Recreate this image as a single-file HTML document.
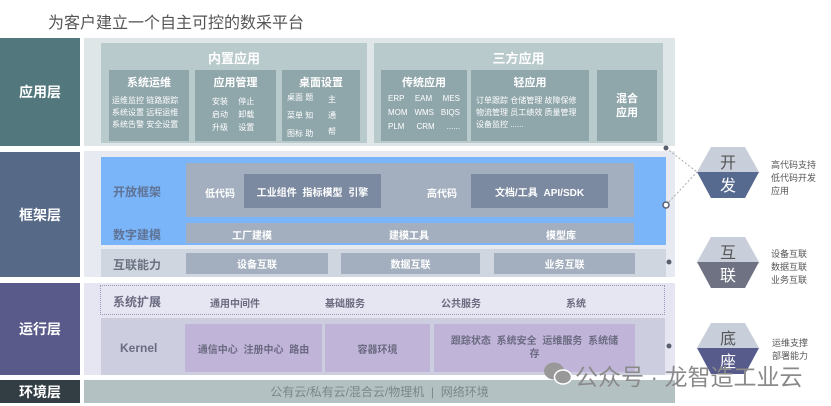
<!DOCTYPE html>
<html><head><meta charset="utf-8"><style>
*{margin:0;padding:0;box-sizing:border-box}
body{width:831px;height:406px;background:#fff;position:relative;overflow:hidden;font-family:"Liberation Sans","Noto Sans CJK SC",sans-serif}
.a{position:absolute}
.c{display:flex;align-items:center;justify-content:center;text-align:center}
.lab{color:#fff;font-weight:bold;font-size:14px}
.w{color:#fff}
.b{font-weight:bold}
</style></head><body>
<div class="a" style="left:48px;top:9px;font-size:16px;color:#555">为客户建立一个自主可控的数采平台</div>

<div class="a c lab" style="left:0;top:38px;width:80px;height:108px;background:#52777c">应用层</div>
<div class="a c lab" style="left:0;top:152px;width:80px;height:125px;background:#566a88">框架层</div>
<div class="a c lab" style="left:0;top:283px;width:80px;height:92px;background:#5a5a8a">运行层</div>
<div class="a c lab" style="left:0;top:380px;width:80px;height:23px;background:#333d44">环境层</div>

<div class="a" style="left:84px;top:38px;width:591px;height:108px;background:#dfe6e7"></div>
<div class="a" style="left:101px;top:43px;width:266px;height:100px;background:#b9cacd"></div>
<div class="a w b" style="left:101px;top:48px;width:266px;text-align:center;font-size:13px">内置应用</div>
<div class="a" style="left:109px;top:70px;width:80px;height:71px;background:#8fa6ab"></div>
<div class="a" style="left:195px;top:70px;width:81px;height:71px;background:#8fa6ab"></div>
<div class="a" style="left:282px;top:70px;width:78px;height:71px;background:#8fa6ab"></div>
<div class="a w b" style="left:109px;top:74px;width:80px;text-align:center;font-size:11px">系统运维</div>
<div class="a w" style="left:112px;top:95px;font-size:8px;line-height:12px">运维监控 链路跟踪<br>系统设置 远程运维<br>系统告警 安全设置</div>
<div class="a w b" style="left:195px;top:74px;width:81px;text-align:center;font-size:11px">应用管理</div>
<div class="a w" style="left:212px;top:95px;font-size:8px;line-height:13px;word-spacing:8px">安装 停止<br>启动 卸载<br>升级 设置</div>
<div class="a w b" style="left:282px;top:74px;width:78px;text-align:center;font-size:11px">桌面设置</div>
<div class="a w" style="left:287px;top:89px;font-size:8px;line-height:18px">桌面 题<br>菜单 知<br>图标 助</div>
<div class="a w" style="left:328px;top:92px;font-size:8px;line-height:16px">主<br>通<br>帮</div>

<div class="a" style="left:374px;top:43px;width:289px;height:100px;background:#b9cacd"></div>
<div class="a w b" style="left:374px;top:48px;width:289px;text-align:center;font-size:13px">三方应用</div>
<div class="a" style="left:381px;top:70px;width:86px;height:71px;background:#8fa6ab"></div>
<div class="a" style="left:471px;top:70px;width:118px;height:71px;background:#8fa6ab"></div>
<div class="a" style="left:597px;top:70px;width:60px;height:71px;background:#8fa6ab"></div>
<div class="a w b" style="left:381px;top:74px;width:86px;text-align:center;font-size:11px">传统应用</div>
<div class="a w" style="left:388px;top:92px;width:72px;font-size:8px;line-height:14px;text-align:justify;text-align-last:justify">ERP EAM MES<br>MOM WMS BIQS<br>PLM CRM ......</div>
<div class="a w b" style="left:471px;top:74px;width:118px;text-align:center;font-size:11px">轻应用</div>
<div class="a w" style="left:476px;top:95px;font-size:8px;line-height:12px">订单跟踪 仓储管理 故障保修<br>物流管理 员工绩效 质量管理<br>设备监控 ......</div>
<div class="a c w b" style="left:597px;top:70px;width:60px;height:71px;font-size:11px;line-height:14px">混合<br>应用</div>

<div class="a" style="left:84px;top:151px;width:591px;height:126px;background:#e7eaf0"></div>
<div class="a" style="left:101px;top:157px;width:565px;height:88px;background:#7ab5fa"></div>
<div class="a" style="left:186px;top:163px;width:448px;height:54px;background:#a3afbe"></div>
<div class="a" style="left:244px;top:174px;width:137px;height:34px;background:#7c8aa1"></div>
<div class="a" style="left:471px;top:174px;width:137px;height:34px;background:#7c8aa1"></div>
<div class="a b" style="left:113px;top:183px;font-size:12px;color:#5f7394">开放框架</div>
<div class="a w b" style="left:205px;top:185px;font-size:10px">低代码</div>
<div class="a c w b" style="left:244px;top:174px;width:137px;height:34px;font-size:10px;word-spacing:3px">工业组件 指标模型 引擎</div>
<div class="a w b" style="left:427px;top:185px;font-size:10px">高代码</div>
<div class="a c w b" style="left:471px;top:174px;width:137px;height:34px;font-size:10px;word-spacing:3px">文档/工具 API/SDK</div>
<div class="a" style="left:186px;top:223px;width:448px;height:20px;background:#a3afbe"></div>
<div class="a b" style="left:113px;top:226px;font-size:12px;color:#5f7394">数字建模</div>
<div class="a w b" style="left:232px;top:227px;font-size:10px">工厂建模</div>
<div class="a w b" style="left:389px;top:227px;font-size:10px">建模工具</div>
<div class="a w b" style="left:546px;top:227px;font-size:10px">模型库</div>
<div class="a" style="left:101px;top:249px;width:565px;height:28px;background:#d0d6df"></div>
<div class="a b" style="left:113px;top:256px;font-size:12px;color:#6a7282">互联能力</div>
<div class="a c w b" style="left:186px;top:253px;width:142px;height:21px;background:#a3afbe;font-size:10px">设备互联</div>
<div class="a c w b" style="left:341px;top:253px;width:139px;height:21px;background:#a3afbe;font-size:10px">数据互联</div>
<div class="a c w b" style="left:494px;top:253px;width:141px;height:21px;background:#a3afbe;font-size:10px">业务互联</div>

<div class="a" style="left:84px;top:283px;width:591px;height:92px;background:#e6e5f2"></div>
<div class="a" style="left:100px;top:285px;width:565px;height:30px;border:1px dotted #9a98b8"></div>
<div class="a b" style="left:113px;top:293px;font-size:12px;color:#6a6a80">系统扩展</div>
<div class="a b" style="left:210px;top:295px;font-size:10px;color:#6a6a80">通用中间件</div>
<div class="a b" style="left:325px;top:295px;font-size:10px;color:#6a6a80">基础服务</div>
<div class="a b" style="left:441px;top:295px;font-size:10px;color:#6a6a80">公共服务</div>
<div class="a b" style="left:566px;top:295px;font-size:10px;color:#6a6a80">系统</div>
<div class="a" style="left:101px;top:318px;width:564px;height:57px;background:#cdcde0"></div>
<div class="a b" style="left:120px;top:341px;font-size:12px;color:#6a6a80">Kernel</div>
<div class="a c b" style="left:185px;top:324px;width:137px;height:48px;background:#c0b4d9;font-size:10px;color:#6a6a80;word-spacing:3px">通信中心 注册中心 路由</div>
<div class="a c b" style="left:325px;top:324px;width:105px;height:48px;background:#c0b4d9;font-size:10px;color:#6a6a80">容器环境</div>
<div class="a c b" style="left:434px;top:324px;width:201px;height:48px;background:#c0b4d9;font-size:10px;color:#6a6a80;line-height:13px;word-spacing:3px">跟踪状态 系统安全 运维服务 系统储<br>存</div>

<div class="a c" style="left:84px;top:380px;width:591px;height:23px;background:#b4c1c3;font-size:12px;color:#7a8689">公有云/私有云/混合云/物理机 &nbsp;|&nbsp; 网络环境</div>

<svg class="a" style="left:0;top:0" width="831" height="406">
<line x1="666" y1="148" x2="697" y2="172" stroke="#aaa" stroke-dasharray="2,2"/>
<line x1="666" y1="205" x2="697" y2="172" stroke="#aaa" stroke-dasharray="2,2"/>
<circle cx="666" cy="148" r="2.5" fill="#5a6070"/>
<circle cx="666" cy="205" r="3" fill="#fff" stroke="#5a6070" stroke-width="1.5"/>
<circle cx="669" cy="262" r="2.5" fill="#5a6070"/>
<circle cx="669" cy="346" r="2.5" fill="#5a6070"/>
<g>
<polygon points="697,172 711,147 745,147 759,172" fill="#c9cedb"/>
<polygon points="697,172 759,172 745,198 711,198" fill="#56698f"/>
<polygon points="697,262 711,237 745,237 759,262" fill="#c9cedb"/>
<polygon points="697,262 759,262 745,288 711,288" fill="#6f7283"/>
<polygon points="697,348 711,323 745,323 759,348" fill="#c9cedb"/>
<polygon points="697,348 759,348 745,374 711,374" fill="#575b8b"/>
</g>
<g font-family="Liberation Sans, Noto Sans CJK SC, sans-serif" font-size="16" text-anchor="middle">
<text x="728" y="168" fill="#555">开</text><text x="728" y="191" fill="#fff">发</text>
<text x="728" y="258" fill="#555">互</text><text x="728" y="281" fill="#fff">联</text>
<text x="728" y="344" fill="#555">底</text><text x="728" y="367" fill="#fff">座</text>
</g>
</svg>
<div class="a" style="left:771px;top:159px;font-size:9px;line-height:13px;color:#555">高代码支持<br>低代码开发<br>应用</div>
<div class="a" style="left:771px;top:248px;font-size:9px;line-height:13px;color:#555">设备互联<br>数据互联<br>业务互联</div>
<div class="a" style="left:772px;top:337px;font-size:9px;line-height:13px;color:#555">运维支撑<br>部署能力</div>

<svg class="a" style="left:543px;top:361px" width="30" height="26"><ellipse cx="11" cy="10" rx="10" ry="8.5" fill="#999"/><ellipse cx="20" cy="16" rx="8.5" ry="7" fill="#999" stroke="#fff" stroke-width="1.5"/></svg>
<div class="a" style="left:575px;top:358px;font-size:23px;color:#8a8a8a;white-space:nowrap">公众号 · 龙智造工业云</div>
</body></html>
